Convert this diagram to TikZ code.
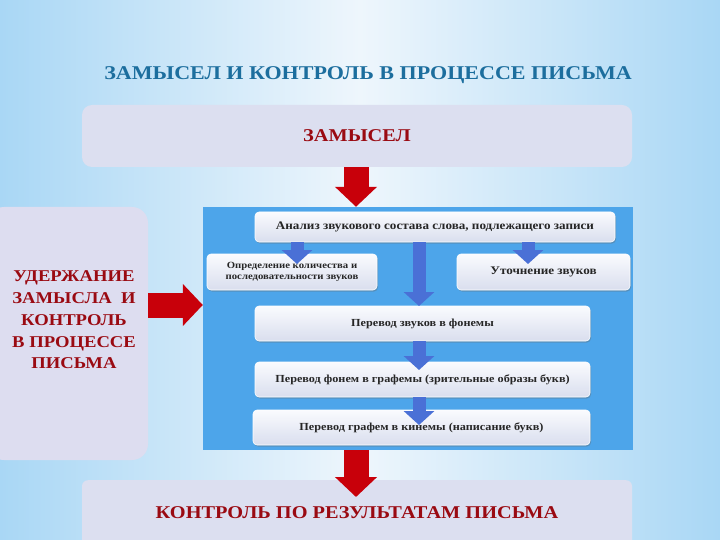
\documentclass[tikz,border=0pt]{standalone}
\usepackage{fontspec}
\setmainfont{Liberation Serif}
\newfontfamily\wideserif[FakeStretch=1.13]{Liberation Serif}
\usetikzlibrary{arrows.meta,shadows,calc}
\definecolor{titleblue}{HTML}{1C6E9E}
\definecolor{darkred}{HTML}{9A0A12}
\definecolor{arrred}{HTML}{C8000A}
\definecolor{panelblue}{HTML}{4DA5EA}
\definecolor{lav}{HTML}{DCDFF0}
\definecolor{lavleft}{HTML}{DDDDF0}
\definecolor{bluearr}{HTML}{4A70D6}
\definecolor{bgblue}{HTML}{A9D7F5}
\definecolor{bgwhite}{HTML}{EEF6FC}
\definecolor{boxtop}{HTML}{FAFBFE}
\definecolor{boxbot}{HTML}{D9DEEE}
\begin{document}
\begin{tikzpicture}[x=1pt,y=-1pt,
 inbox/.style={rectangle, rounded corners=4pt, top color=boxtop, bottom color=boxbot,
   draw=white, line width=0.6pt,
   drop shadow={shadow xshift=1pt,shadow yshift=-1.5pt,opacity=0.35,fill=black!60},
   font=\wideserif\bfseries\fontsize{11.6}{12.5}\selectfont, text=black!85, align=center, inner sep=0pt},
 smallfont/.style={font=\wideserif\bfseries\fontsize{10.8}{12}\selectfont},
 redarrow/.style={draw=arrred, line width=25pt, -{Triangle[width=41pt,length=20pt]}},
 bluearrow/.style={draw=bluearr, line width=13pt, -{Triangle[width=30pt,length=14pt]}},
 redtext/.style={text=darkred, font=\wideserif\bfseries\fontsize{18}{22}\selectfont, align=center},
]
\useasboundingbox (0,0) rectangle (720,540);
\shade[left color=bgblue, right color=bgblue, middle color=bgwhite] (0,0) rectangle (720,540);

% title
\node[text=titleblue, font=\wideserif\bfseries\fontsize{19.5}{22}\selectfont] (title) at (368,75)
  {ЗАМЫСЕЛ И КОНТРОЛЬ В ПРОЦЕССЕ ПИСЬМА};

% top box
\node[rectangle, rounded corners=10pt, fill=lav, minimum width=550pt, minimum height=62pt,
  redtext] (zam) at (357,136) {ЗАМЫСЕЛ};

% left box
\node[rectangle, rounded corners=16pt, fill=lavleft, minimum width=160pt, minimum height=253pt]
  (left) at (68,333.5) {};
\node[redtext, font=\wideserif\bfseries\fontsize{16.5}{21.8}\selectfont] (lefttext) at (74,320)
  {УДЕРЖАНИЕ\\ЗАМЫСЛА \ И\\КОНТРОЛЬ\\В ПРОЦЕССЕ\\ПИСЬМА};

% bottom box
\node[rectangle, rounded corners=6pt, fill=lav, minimum width=550pt, minimum height=70pt,
  anchor=north] (res) at (357,480) {};
\node[redtext] (restext) at (357,513) {КОНТРОЛЬ ПО РЕЗУЛЬТАТАМ ПИСЬМА};

% blue panel
\node[rectangle, fill=panelblue, minimum width=430pt, minimum height=243pt] (panel) at (418,328.5) {};

% inner boxes
\node[inbox, minimum width=360pt, minimum height=30pt] (b1) at (435,227)
  {Анализ звукового состава слова, подлежащего записи};
\node[inbox, minimum width=170pt, minimum height=36pt, font=\wideserif\bfseries\fontsize{9.5}{11}\selectfont] (b2) at (292,272)
  {Определение количества и\\последовательности звуков};
\node[inbox, minimum width=173pt, minimum height=36pt] (b3) at (543.5,272) {Уточнение звуков};
\node[inbox, smallfont, minimum width=335pt, minimum height=35pt] (b4) at (422.5,323.5) {Перевод звуков в фонемы};
\node[inbox, smallfont, minimum width=335pt, minimum height=35pt] (b5) at (422.5,379.5)
  {Перевод фонем в графемы (зрительные образы букв)};
\node[inbox, smallfont, minimum width=337pt, minimum height=35pt] (b6) at (421.5,427.5)
  {Перевод графем в кинемы (написание букв)};

% blue arrows
\coordinate (t2) at (297,264);
\coordinate (t3) at (528,264);
\coordinate (t4) at (419,306);
\coordinate (t5) at (419,370);
\coordinate (t6) at (419,425);
\draw[bluearrow] (b1.south -| t2) -- (t2);
\draw[bluearrow] (b1.south -| t3) -- (t3);
\draw[bluearrow] (b1.south -| t4) -- (t4);
\draw[bluearrow] (b4.south -| t5) -- (t5);
\draw[bluearrow] (b5.south -| t6) -- (t6);

% red arrows
\draw[redarrow] (zam.south -| 356,0) -- (panel.north -| 356,0);
\coordinate (ry) at (0,305);
\draw[redarrow] (left.east |- ry) -- (panel.west |- ry);
\coordinate (btip) at (356,497);
\draw[redarrow] (panel.south -| btip) -- (btip);
\end{tikzpicture}
\end{document}
